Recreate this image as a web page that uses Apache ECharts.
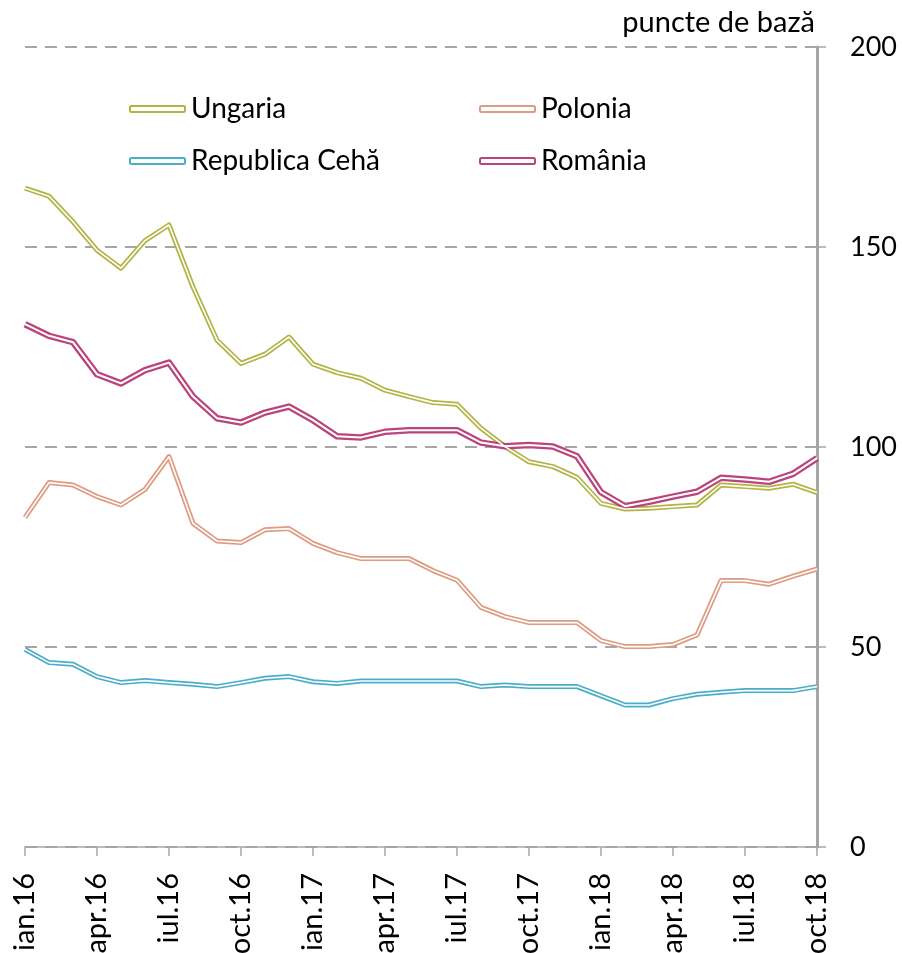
<!DOCTYPE html>
<html><head><meta charset="utf-8">
<script src="https://cdn.jsdelivr.net/npm/echarts@6/dist/echarts.min.js"></script>
<style>html,body{margin:0;padding:0;background:#fff}#c{width:902px;height:953px}</style>
</head><body><div id="c"></div>
<script>
const months = ['ian','feb','mar','apr','mai','iun','iul','aug','sep','oct','noi','dec'];
const categories = [];
for (let y of ['16','17','18']) for (let m of months) categories.push(m + '.' + y);
categories.length = 34;

const ungaria = [164.7,162.7,156.3,149.2,144.7,151.6,155.5,140,126.7,120.9,123.2,127.5,
  120.7,118.6,117.2,114.2,112.6,111.1,110.7,104.7,100.1,96.3,95.1,92.4,
  85.9,84.5,84.7,85.1,85.5,90.5,90.1,89.7,90.7,88.6];
const polonia = [82.4,91.1,90.5,87.6,85.5,89.4,97.6,80.9,76.5,76.1,79.3,79.6,
  75.9,73.6,72.1,72.1,72.1,69.1,66.7,59.9,57.6,56.1,56.1,56.1,
  51.6,50.1,50.1,50.6,53,66.6,66.6,65.7,67.7,69.5];
const cehia = [49.4,46.1,45.7,42.6,41.1,41.6,41.1,40.7,40.1,41.1,42.2,42.6,
  41.3,40.9,41.5,41.5,41.5,41.5,41.5,40.1,40.5,40.1,40.1,40.1,
  37.8,35.5,35.5,37.1,38.2,38.7,39.1,39.1,39.1,40.1];
const romania = [130.7,127.8,126.2,118.2,115.9,119.2,121.1,112.6,107.2,106.1,108.6,110.1,
  106.7,102.7,102.4,103.8,104.2,104.2,104.2,101.1,100.2,100.5,100.1,97.7,
  88.7,85.2,86.3,87.6,88.8,92.3,91.9,91.3,93.3,97.2];

const FONT = 'Lato';
const GRAY = '#A6A6A6';
const defs = [
  {name:'Ungaria', data:ungaria, color:'#B3B346', w:5, iw:1.6},
  {name:'Polonia', data:polonia, color:'#DD9B82', w:5, iw:1.6},
  {name:'Republica Cehă', data:cehia, color:'#4BAEC8', w:5, iw:1.6},
  {name:'România', data:romania, color:'#BA447C', w:6.5, iw:2}
];
const series = [];
defs.forEach(d => {
  series.push({name:d.name, type:'line', data:d.data, symbol:'none', silent:true,
    itemStyle:{color:d.color}, lineStyle:{color:d.color, width:d.w, join:'round'}, z:2});
  series.push({name:d.name+'_in', type:'line', data:d.data, symbol:'none', silent:true,
    lineStyle:{color:'#ffffff', width:d.iw}, z:3});
});
function legItem(d){return {name:d.name, icon:'roundRect', itemStyle:{color:'#fff', borderColor:d.color, borderWidth:2}};}
const legText = {fontFamily:FONT, fontSize:28, color:'#000', lineHeight:30, padding:[0,0,0,1]};
const chart = echarts.init(document.getElementById('c'));
chart.setOption({
  animation:false,
  title:{text:'puncte de bază', right:87, top:8, padding:0, textStyle:{fontFamily:FONT, fontSize:29, fontWeight:'normal', color:'#000'}},
  legend:[
    {left:129, top:94, padding:0, orient:'vertical', itemGap:22, itemWidth:55, itemHeight:6,
     textStyle:legText, data:[legItem(defs[0]), legItem(defs[2])]},
    {left:479, top:94, padding:0, orient:'vertical', itemGap:22, itemWidth:55, itemHeight:6,
     textStyle:legText, data:[legItem(defs[1]), legItem(defs[3])]}
  ],
  grid:{left:25, right:85, top:47, bottom:106, containLabel:false, outerBoundsMode:'none'},
  xAxis:{type:'category', data:categories, boundaryGap:false,
    axisLine:{lineStyle:{color:GRAY, width:1.5}},
    axisTick:{interval:2, length:9, lineStyle:{color:GRAY, width:1.5}},
    axisLabel:{interval:2, rotate:90, margin:26, fontFamily:FONT, fontSize:29, color:'#000'},
    splitLine:{show:false}},
  yAxis:{type:'value', position:'right', min:0, max:200, interval:50,
    axisLine:{show:true, lineStyle:{color:GRAY, width:3}},
    axisTick:{show:true, length:9, lineStyle:{color:GRAY, width:1.5}},
    axisLabel:{margin:33, fontFamily:FONT, fontSize:27, color:'#000'},
    splitLine:{lineStyle:{color:GRAY, width:2, type:[12,8]}}},
  series:series
});
</script></body></html>
